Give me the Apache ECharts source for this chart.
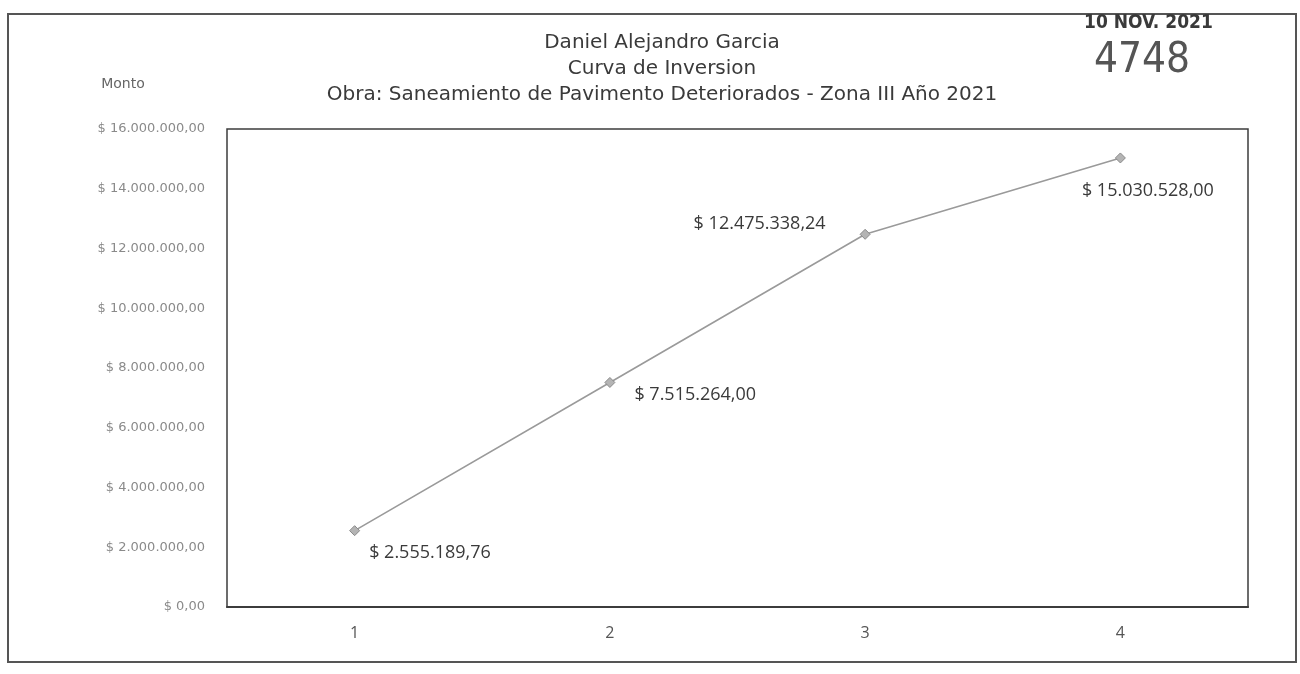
<!DOCTYPE html>
<html>
<head>
<meta charset="utf-8">
<script src="https://cdn.jsdelivr.net/npm/echarts@6/dist/echarts.min.js"></script>
<style>
html,body{margin:0;padding:0;background:#fff;}
#chart{width:1300px;height:674px;}
</style>
</head>
<body>
<div id="chart"></div>
<script>
// ---- data ----
const categories = ['1', '2', '3', '4'];
const montos = [2555189.76, 7515264.00, 12475338.24, 15030528.00];
const yTicks = [0, 2000000, 4000000, 6000000, 8000000, 10000000, 12000000, 14000000, 16000000];
const titleLines = ['Daniel Alejandro Garcia', 'Curva de Inversion', 'Obra: Saneamiento de Pavimento Deteriorados - Zona III Año 2021'];
const yAxisName = 'Monto';
const stampDate = '10 NOV. 2021';
const stampNumber = '4748';

function fmt(v) {
  const parts = v.toFixed(2).split('.');
  const ent = parts[0].replace(/\B(?=(\d{3})+(?!\d))/g, '.');
  return ent + ',' + parts[1];
}

// label placement per point (style only)
const labelPlacement = [
  { position: [20, 28], align: 'left' },
  { position: [30, 18], align: 'left' },
  { position: [-34, -5], align: 'right' },
  { position: [-33, 38], align: 'left' }
];

const chart = echarts.init(document.getElementById('chart'));
const gothic = '"DejaVu Sans", "Noto Sans", sans-serif';
const calibri = '"Liberation Sans Narrow", "Open Sans", sans-serif';

chart.setOption({
  backgroundColor: '#ffffff',
  animation: false,
  title: {
    text: titleLines.join('\n'),
    left: 657,
    top: 25,
    textAlign: 'center',
    textStyle: { fontFamily: gothic, fontSize: 20, fontWeight: 'normal', color: '#3a3a3a', lineHeight: 26 }
  },
  grid: {
    left: 227, right: 52, top: 129, bottom: 67,
    show: true, borderColor: '#3c3c3c', borderWidth: 1.5, backgroundColor: 'transparent'
  },
  xAxis: {
    type: 'category',
    data: categories,
    boundaryGap: true,
    axisLine: { show: true, lineStyle: { color: '#3c3c3c', width: 2 } },
    axisTick: { show: false },
    axisLabel: { fontFamily: calibri, fontSize: 16, color: '#555', margin: 18 }
  },
  yAxis: {
    type: 'value',
    min: yTicks[0],
    max: yTicks[yTicks.length - 1],
    interval: yTicks[1] - yTicks[0],
    axisLine: { show: false },
    axisTick: { show: false },
    splitLine: { show: false },
    axisLabel: {
      fontFamily: gothic, fontSize: 13, color: '#8a8a8a', margin: 22,
      formatter: v => '$ ' + fmt(v)
    }
  },
  series: [{
    type: 'line',
    data: montos.map((v, i) => ({
      value: v,
      label: {
        show: true,
        position: labelPlacement[i].position,
        align: labelPlacement[i].align,
        verticalAlign: 'middle',
        formatter: p => '$ ' + fmt(p.value),
        fontFamily: calibri, fontSize: 18, color: '#3a3a3a'
      }
    })),
    symbol: 'diamond',
    symbolSize: 10,
    lineStyle: { color: '#9a9a9a', width: 1.6 },
    itemStyle: { color: '#b4b4b4', borderColor: '#8a8a8a', borderWidth: 1 }
  }],
  graphic: [
    { type: 'rect', shape: { x: 8, y: 14, width: 1288, height: 648 }, style: { fill: 'none', stroke: '#555', lineWidth: 2 }, silent: true },
    { type: 'text', x: 123, y: 84, style: { text: yAxisName, font: '14px "DejaVu Sans", sans-serif', fill: '#666', align: 'center', verticalAlign: 'middle' } },
    { type: 'text', left: 1084, top: 14, style: { text: stampDate, font: 'bold 19px "DejaVu Sans Condensed", "Liberation Sans Narrow", sans-serif', fill: '#3a3a3a' } },
    { type: 'text', left: 1094, top: 40, style: { text: stampNumber, font: '42px "Liberation Sans Narrow", "DejaVu Sans Condensed", sans-serif', fill: '#555', letterSpacing: 9 } }
  ]
});
</script>
</body>
</html>
